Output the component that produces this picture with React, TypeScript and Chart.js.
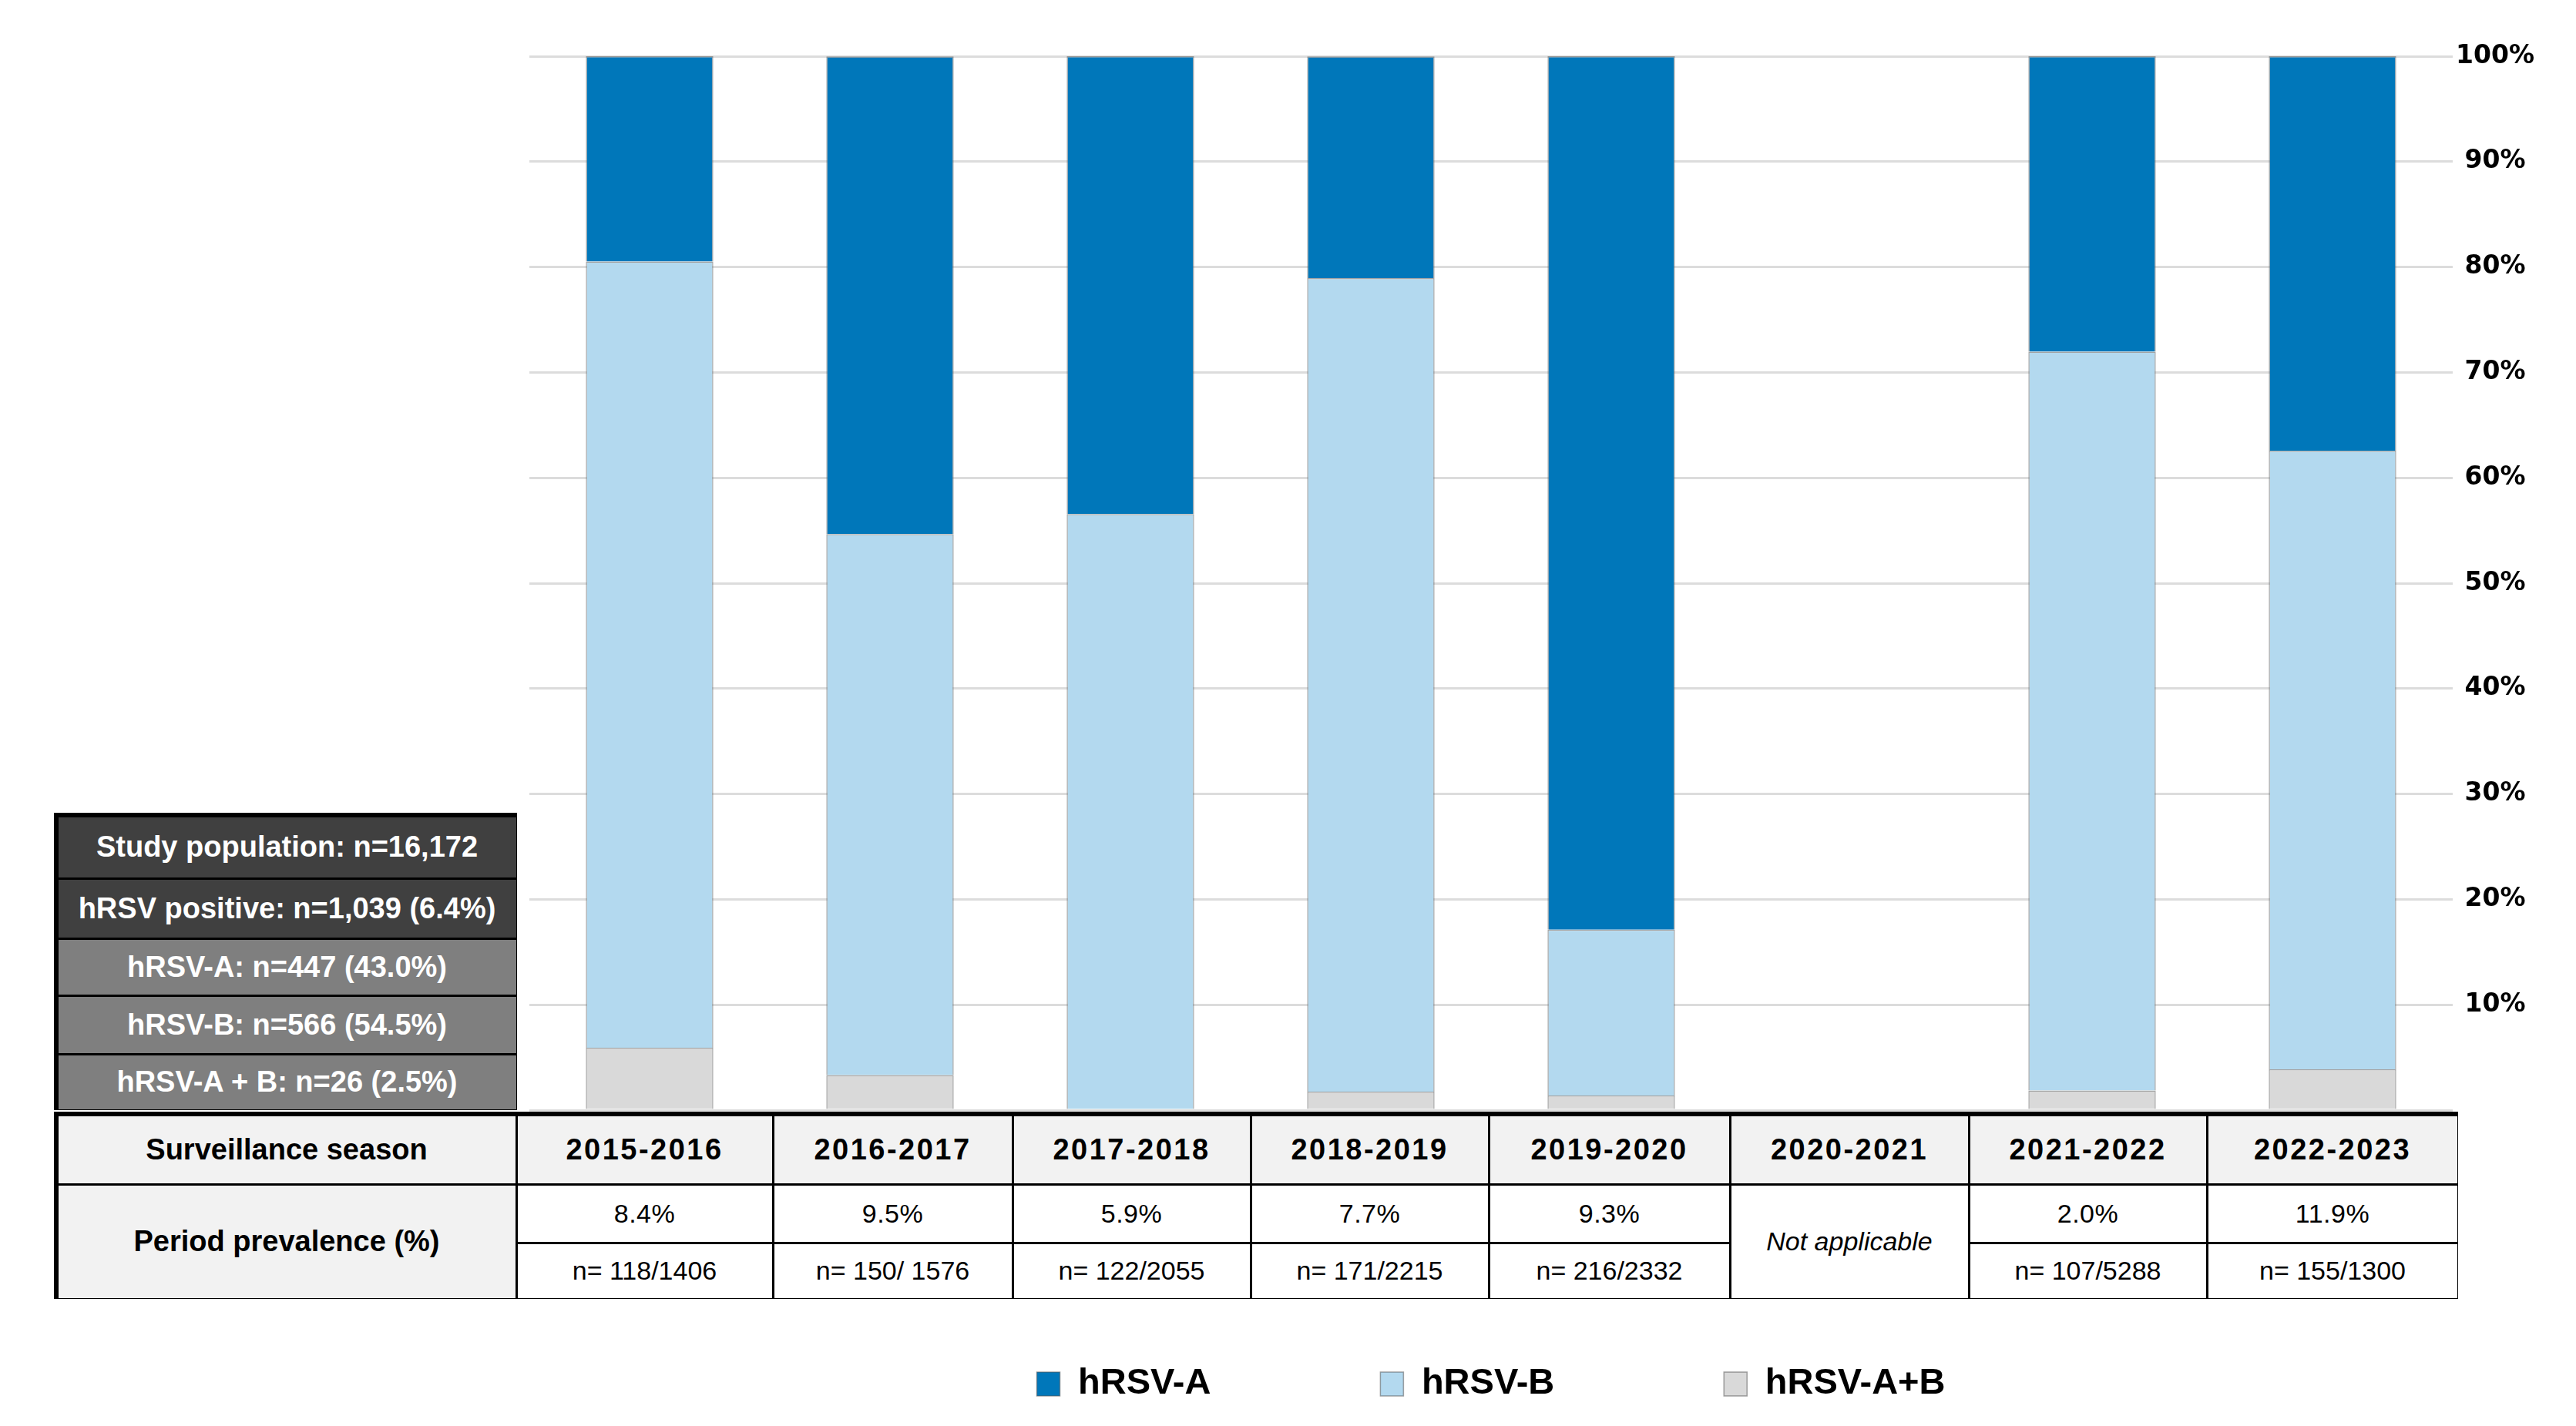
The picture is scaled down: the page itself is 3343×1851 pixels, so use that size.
import React, { useEffect, useRef } from 'react';
import { Chart, registerables } from 'chart.js';

Chart.register(...registerables);

// ---------- data ----------
const seasons = ['2015-2016', '2016-2017', '2017-2018', '2018-2019', '2019-2020', '2020-2021', '2021-2022', '2022-2023'];
const seriesLabels = ['hRSV-A', 'hRSV-B', 'hRSV-A+B'];
const hrsvA = [19.49, 45.33, 43.44, 21.05, 82.87, null, 28.04, 37.42];
const hrsvB = [74.58, 51.33, 56.56, 77.19, 15.74, null, 70.09, 58.71];
const hrsvAB = [5.93, 3.33, 0, 1.75, 1.39, null, 1.87, 3.87];
const yTickStep = 10;
const prevalence = ['8.4%', '9.5%', '5.9%', '7.7%', '9.3%', null, '2.0%', '11.9%'];
const counts = ['n= 118/1406', 'n= 150/ 1576', 'n= 122/2055', 'n= 171/2215', 'n= 216/2332', null, 'n= 107/5288', 'n= 155/1300'];
const notApplicable = 'Not applicable';
const rowHeaders = ['Surveillance season', 'Period prevalence (%)'];
const summaryLines = [
  'Study population: n=16,172',
  'hRSV positive: n=1,039 (6.4%)',
  'hRSV-A: n=447 (43.0%)',
  'hRSV-B: n=566 (54.5%)',
  'hRSV-A + B: n=26 (2.5%)',
];

// ---------- layout / style ----------
const W = 3343;
const H = 1851;
const COLORS = { A: '#0077BA', B: '#B3D9EF', AB: '#D9D9D9' };
const FONT = '"Liberation Sans", Arial, sans-serif';
const colX = [72, 668, 1001, 1312, 1621, 1930, 2243, 2553, 2862, 3188];
const rowY = [1445, 1535, 1611, 1684];
const boxX = [72, 669];
const boxY = [1057, 1138, 1216, 1290, 1366, 1439];
const boxBg = ['#404040', '#404040', '#7f7f7f', '#7f7f7f', '#7f7f7f'];

type CellProps = {
  x0: number; x1: number; y0: number; y1: number;
  ox: number; oy: number; bg: string; style?: React.CSSProperties; children?: React.ReactNode;
};

function Cell({ x0, x1, y0, y1, ox, oy, bg, style, children }: CellProps) {
  const g = 1.5;
  return (
    <div
      style={{
        position: 'absolute',
        left: x0 - ox + g,
        top: y0 - oy + g,
        width: x1 - x0 - 2 * g,
        height: y1 - y0 - 2 * g,
        background: bg,
        display: 'flex',
        alignItems: 'center',
        justifyContent: 'center',
        fontFamily: FONT,
        whiteSpace: 'nowrap',
        ...style,
      }}
    >
      {children}
    </div>
  );
}

function SummaryBox() {
  const ox = boxX[0] - 2;
  const oy = boxY[0] - 2;
  return (
    <div
      style={{
        position: 'absolute',
        left: ox,
        top: oy,
        width: boxX[1] - boxX[0] + 4,
        height: boxY[boxY.length - 1] - boxY[0] + 4,
        background: '#000',
      }}
    >
      {summaryLines.map((t, i) => (
        <Cell
          key={t}
          x0={boxX[0]} x1={boxX[1]} y0={boxY[i]} y1={boxY[i + 1]}
          ox={ox - 2} oy={oy - 2}
          bg={boxBg[i]}
          style={{ color: '#fff', fontWeight: 'bold', fontSize: 38 }}
        >
          {t}
        </Cell>
      ))}
    </div>
  );
}

function SeasonTable() {
  const ox = colX[0] - 2;
  const oy = rowY[0] - 2;
  const cells: React.ReactNode[] = [];
  const o = { ox: ox - 2, oy: oy - 2 };
  cells.push(
    <Cell key="h0" x0={colX[0]} x1={colX[1]} y0={rowY[0]} y1={rowY[1]} {...o} bg="#f2f2f2"
      style={{ fontWeight: 'bold', fontSize: 38, color: '#000' }}>
      {rowHeaders[0]}
    </Cell>
  );
  cells.push(
    <Cell key="h1" x0={colX[0]} x1={colX[1]} y0={rowY[1]} y1={rowY[3]} {...o} bg="#f2f2f2"
      style={{ fontWeight: 'bold', fontSize: 38, color: '#000' }}>
      {rowHeaders[1]}
    </Cell>
  );
  seasons.forEach((s, i) => {
    const x0 = colX[i + 1];
    const x1 = colX[i + 2];
    cells.push(
      <Cell key={'s' + i} x0={x0} x1={x1} y0={rowY[0]} y1={rowY[1]} {...o} bg="#f2f2f2"
        style={{ fontWeight: 'bold', fontSize: 38, letterSpacing: 2.5, color: '#000' }}>
        {s}
      </Cell>
    );
    if (prevalence[i] === null) {
      cells.push(
        <Cell key={'na' + i} x0={x0} x1={x1} y0={rowY[1]} y1={rowY[3]} {...o} bg="#fff"
          style={{ fontStyle: 'italic', fontSize: 34, color: '#000' }}>
          {notApplicable}
        </Cell>
      );
    } else {
      cells.push(
        <Cell key={'p' + i} x0={x0} x1={x1} y0={rowY[1]} y1={rowY[2]} {...o} bg="#fff"
          style={{ fontSize: 34, letterSpacing: 0.5, color: '#000' }}>
          {prevalence[i]}
        </Cell>
      );
      cells.push(
        <Cell key={'c' + i} x0={x0} x1={x1} y0={rowY[2]} y1={rowY[3]} {...o} bg="#fff"
          style={{ fontSize: 34, color: '#000' }}>
          {counts[i]}
        </Cell>
      );
    }
  });
  return (
    <div
      style={{
        position: 'absolute',
        left: ox,
        top: oy,
        width: colX[colX.length - 1] - colX[0] + 4,
        height: rowY[rowY.length - 1] - rowY[0] + 4,
        background: '#000',
      }}
    >
      {cells}
    </div>
  );
}

export default function App() {
  const ref = useRef<HTMLCanvasElement>(null);

  useEffect(() => {
    if (!ref.current) return;
    const barBorder = 'rgba(90,90,90,0.55)';
    const chart = new Chart(ref.current, {
      type: 'bar',
      data: {
        labels: seasons,
        datasets: [
          { label: seriesLabels[2], data: hrsvAB, backgroundColor: COLORS.AB, borderColor: barBorder, borderWidth: 1.5 },
          { label: seriesLabels[1], data: hrsvB, backgroundColor: COLORS.B, borderColor: barBorder, borderWidth: 1.5 },
          { label: seriesLabels[0], data: hrsvA, backgroundColor: COLORS.A, borderColor: barBorder, borderWidth: 1.5 },
        ],
      },
      options: {
        responsive: false,
        animation: false,
        devicePixelRatio: 1,
        layout: { padding: { left: 687, right: 30, top: 73, bottom: 21 } },
        datasets: { bar: { categoryPercentage: 1, barPercentage: 0.53 } },
        scales: {
          x: {
            stacked: true,
            grid: { display: false, drawTicks: false },
            ticks: { display: false },
            border: { display: false },
            afterFit: (s: any) => { s.height = 112; },
          },
          y: {
            stacked: true,
            position: 'right',
            min: 0,
            max: 100,
            ticks: {
              stepSize: yTickStep,
              callback: (v: any) => (Number(v) === 0 ? '' : v + '%'),
              crossAlign: 'center',
              padding: 4,
              color: '#000',
              font: { family: '"DejaVu Sans", sans-serif', weight: 'bold', size: 33 },
            },
            grid: { color: '#dcdcdc', lineWidth: 3, drawTicks: false },
            border: { display: false },
            afterFit: (s: any) => { s.width = 130; },
          },
        },
        plugins: {
          legend: {
            position: 'bottom',
            fullSize: false,
            reverse: true,
            labels: {
              boxWidth: 30,
              boxHeight: 31,
              padding: 220,
              color: '#000',
              font: { family: FONT, weight: 'bold', size: 47 },
            },
          },
          tooltip: { enabled: false },
        },
      } as any,
    });
    return () => chart.destroy();
  }, []);

  return (
    <div style={{ position: 'absolute', left: 0, top: 0, width: W, height: H, background: '#fff', overflow: 'hidden' }}>
      <canvas ref={ref} width={W} height={H} style={{ position: 'absolute', left: 0, top: 0, width: W, height: H }} />
      <SummaryBox />
      <SeasonTable />
    </div>
  );
}
